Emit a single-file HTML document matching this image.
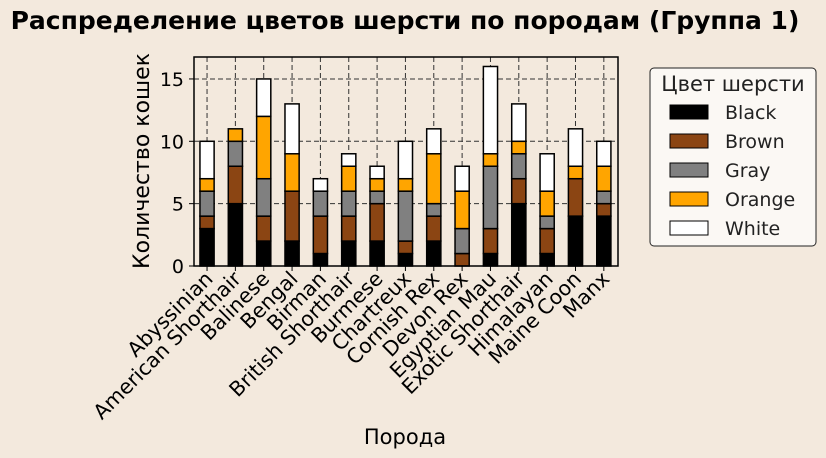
<!DOCTYPE html>
<html><head><meta charset="utf-8"><style>
body{margin:0;background:#f3e9dd;}
svg{display:block;font-family:"DejaVu Sans","Liberation Sans",sans-serif;}
</style></head><body>
<svg id="c" width="826" height="458"></svg>
<script>
const categories=["Abyssinian","American Shorthair","Balinese","Bengal","Birman","British Shorthair","Burmese","Chartreux","Cornish Rex","Devon Rex","Egyptian Mau","Exotic Shorthair","Himalayan","Maine Coon","Manx"];
const seriesNames=["Black","Brown","Gray","Orange","White"];
const black=[3,5,2,2,1,2,2,1,2,0,1,5,1,4,4];
const brown=[1,3,2,4,3,2,3,1,2,1,2,2,2,3,1];
const gray=[2,2,3,0,2,2,1,4,1,2,5,2,1,0,1];
const orange=[1,1,5,3,0,2,1,1,4,3,1,1,2,1,2];
const white=[3,0,3,4,1,1,1,3,2,2,7,3,3,3,2];
const yTicks=[0,5,10,15];
const colors=["#000000","#8b4513","#808080","#ffa500","#ffffff"];
const series=[black,brown,gray,orange,white];
const NS="http://www.w3.org/2000/svg";
const svg=document.getElementById("c");
function el(t,a,p){const e=document.createElementNS(NS,t);for(const k in a)e.setAttribute(k,a[k]);(p||svg).appendChild(e);return e;}
const L=194,R=618,T=57,B=266;
const x=v=>L+(v+0.46)/(14.96)*(R-L);
const y=v=>B-v/16.76*(B-T);
let t=el("text",{x:405,y:29,"text-anchor":"middle","font-size":25,"font-weight":"bold",fill:"#000"});t.textContent="Распределение цветов шерсти по породам (Группа 1)";

yTicks.forEach(v=>{const g=el("line",{x1:L,x2:R,y1:y(v),y2:y(v),stroke:"#333","stroke-dasharray":"5,3","stroke-width":1});
});
categories.forEach((c,i)=>{const g=el("line",{x1:x(i),x2:x(i),y1:T,y2:B,stroke:"#333","stroke-dasharray":"5,3","stroke-width":1});
});
categories.forEach((c,i)=>{let cum=0;series.forEach((s,k)=>{const v=s[i];if(v>0){const r=el("rect",{x:x(i-0.25),width:x(0.25)-x(-0.25),y:y(cum+v),height:y(cum)-y(cum+v),fill:colors[k],stroke:"#000","stroke-width":1.5});
}cum+=v;});});
const f=el("rect",{x:L,y:T,width:R-L,height:B-T,fill:"none",stroke:"#000","stroke-width":1.5});

yTicks.forEach(v=>{el("line",{x1:L-5,x2:L,y1:y(v),y2:y(v),stroke:"#000"});const tx=el("text",{x:L-10,y:y(v)+7,"text-anchor":"end","font-size":19});tx.textContent=v;
});
categories.forEach((c,i)=>{el("line",{x1:x(i),x2:x(i),y1:B,y2:B+5,stroke:"#000"});const tx=el("text",{x:x(i)+7,y:B+14,"text-anchor":"end","font-size":20.5,transform:`rotate(-45 ${x(i)+7} ${B+14})`});tx.textContent=c;
});
let xl=el("text",{x:405,y:444,"text-anchor":"middle","font-size":21});xl.textContent="Порода";

let yl=el("text",{x:149,y:161,"text-anchor":"middle","font-size":22,transform:"rotate(-90 149 161)"});yl.textContent="Количество кошек";

const lg=el("g",{});
el("rect",{x:650,y:68,width:166,height:178,rx:4,fill:"#fbf8f4",stroke:"#222","stroke-width":1},lg);
let lt=el("text",{x:733,y:91,"text-anchor":"middle","font-size":21,fill:"#222"},lg);lt.textContent="Цвет шерсти";
seriesNames.forEach((n,k)=>{const yy=112+k*29;const r=el("rect",{x:670,y:yy-7,width:38,height:14,fill:colors[k],stroke:"#000","stroke-width":1},lg);

const tx=el("text",{x:725,y:yy+7,"font-size":19,fill:"#222"},lg);tx.textContent=n;
});
</script>
</body></html>
